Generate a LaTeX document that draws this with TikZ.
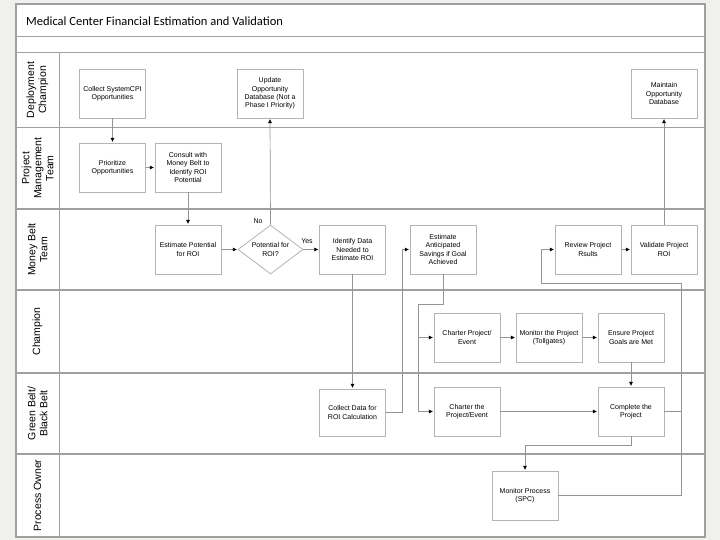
\documentclass[tikz,border=0pt]{standalone}
\usepackage{fontspec}
\setmainfont{Liberation Sans}
\newfontfamily\titlefont{Carlito}
\usetikzlibrary{arrows.meta,shapes.geometric}
\definecolor{pagegrey}{HTML}{F0F0EC}
\definecolor{frameline}{HTML}{A0A0A0}
\definecolor{boxline}{HTML}{B4B4B4}
\definecolor{conn}{HTML}{949494}
\tikzset{
  stepbox/.style={draw=boxline, line width=0.8pt, fill=white, minimum width=66pt, minimum height=49pt,
    inner sep=0pt, align=center, font=\fontsize{7}{8.3}\selectfont},
  decbox/.style={diamond, aspect=1.33, draw=boxline, line width=0.8pt, fill=white, minimum width=65pt,
    minimum height=49pt, inner sep=0pt, align=center, font=\fontsize{7}{8.3}\selectfont},
  lanelabel/.style={rotate=90, align=center, font=\fontsize{10.5}{12}\selectfont, inner sep=0pt},
  lane/.style={draw=frameline, line width=1.1pt},
  conn/.style={draw=conn, line width=0.7pt},
  arr/.style={conn, -{Triangle[length=4pt,width=3.6pt]}, arrows={-{Triangle[length=4pt,width=3.6pt,color=black]}}, shorten >=0.8pt},
  small/.style={font=\fontsize{7}{8.3}\selectfont, inner sep=0pt}
}
\begin{document}
\begin{tikzpicture}[x=1pt,y=-1pt]
\useasboundingbox (0,0) rectangle (720,540);
\fill[pagegrey] (0,0) rectangle (720,540);
\fill[white] (16,4) rectangle (705,537);
% frame and lanes
\draw[lane] (16,4) rectangle (705,537);
\draw[lane] (16,36.5) -- (705,36.5);
\foreach \yy in {52.5,127.5,209,290,373,454} {\draw[lane] (16,\yy) -- (705,\yy);}
\draw[draw=frameline, line width=0.8pt] (59,52.5) -- (59,537);
% title
\node[anchor=base west, inner sep=0pt, font=\titlefont\fontsize{12.5}{14}\selectfont] (title) at (26,25.3) {Medical Center Financial Estimation and Validation};
% lane labels
\node[lanelabel] (l1) at (37.5,90) {Deployment\\Champion};
\node[lanelabel] (l2) at (37.5,168.25) {Project\\Management\\Team};
\node[lanelabel] (l3) at (37.5,249.5) {Money Belt\\Team};
\node[lanelabel] (l4) at (37.5,331.5) {Champion};
\node[lanelabel] (l5) at (37.5,413.5) {Green Belt/\\Black Belt};
\node[lanelabel] (l6) at (37.5,495.5) {Process Owner};
% nodes
\node[stepbox] (collect) at (112.5,93.5) {Collect SystemCPI\\Opportunities};
\node[stepbox] (update) at (270,93.5) {Update\\Opportunity\\Database (Not a\\Phase I Priority)};
\node[stepbox] (maint) at (664,93.5) {Maintain\\Opportunity\\Database};
\node[stepbox] (prio) at (112.5,167.5) {Prioritize\\Opportunities};
\node[stepbox] (consult) at (188,167.5) {Consult with\\Money Belt to\\Identify ROI\\Potential};
\node[stepbox] (estpot) at (188,249.5) {Estimate Potential\\for ROI};
\node[decbox] (dec) at (270.5,249.5) {Potential for\\ROI?};
\node[stepbox] (ident) at (352.5,249.5) {Identify Data\\Needed to\\Estimate ROI};
\node[stepbox] (eas) at (443,249.5) {Estimate\\Anticipated\\Savings if Goal\\Achieved};
\node[stepbox] (rev) at (588,249.5) {Review Project\\Rsults};
\node[stepbox] (val) at (664,249.5) {Validate Project\\ROI};
\node[stepbox] (cpe) at (467,337.5) {Charter Project/\\Event};
\node[stepbox] (mon) at (549,337.5) {Monitor the Project\\(Tollgates)};
\node[stepbox] (ens) at (631,337.5) {Ensure Project\\Goals are Met};
\node[stepbox, minimum height=47pt] (cdata) at (352.5,412.5) {Collect Data for\\ROI Calculation};
\node[stepbox] (cthe) at (467,411.5) {Charter the\\Project/Event};
\node[stepbox] (comp) at (631,411.5) {Complete the\\Project};
\node[stepbox] (mp) at (525,495.5) {Monitor Process\\(SPC)};
% labels
\node[small] (no) at (258,221) {No};
\node[small] (yes) at (307,241) {Yes};
% junctions
\coordinate (k1) at (418,304);
\coordinate (k3) at (681,283);
\coordinate (k4) at (541,283);
% connectors
\draw[arr] (collect) -- (prio);
\draw[arr] (prio) -- (consult);
\draw[arr] (consult) -- (estpot);
\draw[arr] (estpot) -- (dec);
\draw[arr] (dec.north) -- (update.south);
\draw[arr] (dec.east) -- (ident.west);
\draw[arr] (ident) -- (cdata);
\draw[arr] (cdata.east) -- ++(16,0) |- (eas.west);
\draw[arr] (eas.south) |- (k1) |- (cpe.west);
\draw[arr] (k1) |- (cthe.west);
\draw[arr] (cpe) -- (mon);
\draw[arr] (mon) -- (ens);
\draw[arr] (ens) -- (comp);
\draw[arr] (cthe) -- (comp);
\draw[arr] (comp.south) -- ++(0,9) -| (mp.north);
\draw[arr] (mp.east) -| (k3) -- (k4) |- (rev.west);
\draw[conn] (comp.east) -- (comp.east -| k3);
\draw[arr] (rev) -- (val);
\draw[arr] (val) -- (maint);
\end{tikzpicture}
\end{document}
